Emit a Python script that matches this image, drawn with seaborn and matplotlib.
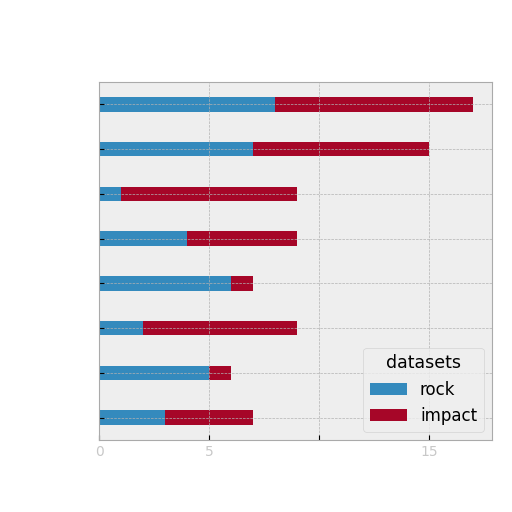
import matplotlib
matplotlib.use("Agg")
import matplotlib.pyplot as plt
from matplotlib.patches import Patch
import seaborn as sns
import pandas as pd

categories = ["A", "B", "C", "D", "E", "F", "G", "H"]
rock = [8, 7, 1, 4, 6, 2, 5, 3]
impact = [9, 8, 8, 5, 1, 7, 1, 4]
xticks = [0, 5, 10, 15]
xticklabels = ["0", "5", "", "15"]

plt.style.use("bmh")
blue = "#348ABD"
red = "#A60628"

df = pd.DataFrame({"cat": categories, "rock": rock, "impact": impact})
df["total"] = df["rock"] + df["impact"]

fig = plt.figure(figsize=(5.12, 5.12), dpi=100)
ax = fig.add_axes([99/512, 1-440/512, (492-99)/512, (440-82)/512])

sns.barplot(data=df, x="total", y="cat", color=red, width=0.32, saturation=1,
            orient="h", ax=ax, edgecolor="none", errorbar=None)
sns.barplot(data=df, x="rock", y="cat", color=blue, width=0.32, saturation=1,
            orient="h", ax=ax, edgecolor="none", errorbar=None)

ax.set_xlabel("")
ax.set_ylabel("")
ax.set_xticks(xticks)
ax.set_xticklabels(xticklabels)
ax.tick_params(axis="x", labelcolor="#c8c8c8", labelsize=10)
ax.tick_params(axis="y", labelleft=False)
ax.grid(True, color="#b2b2b2", linestyle="--", linewidth=0.5)
for s in ax.spines.values():
    s.set_edgecolor("#aaaaaa")

handles = [Patch(facecolor=blue, label="rock"), Patch(facecolor=red, label="impact")]
ax.legend(handles=handles, title="datasets", loc="lower right", fontsize=12,
          title_fontsize=12.5, handlelength=2.2)

fig.savefig("out.png", dpi=100)
